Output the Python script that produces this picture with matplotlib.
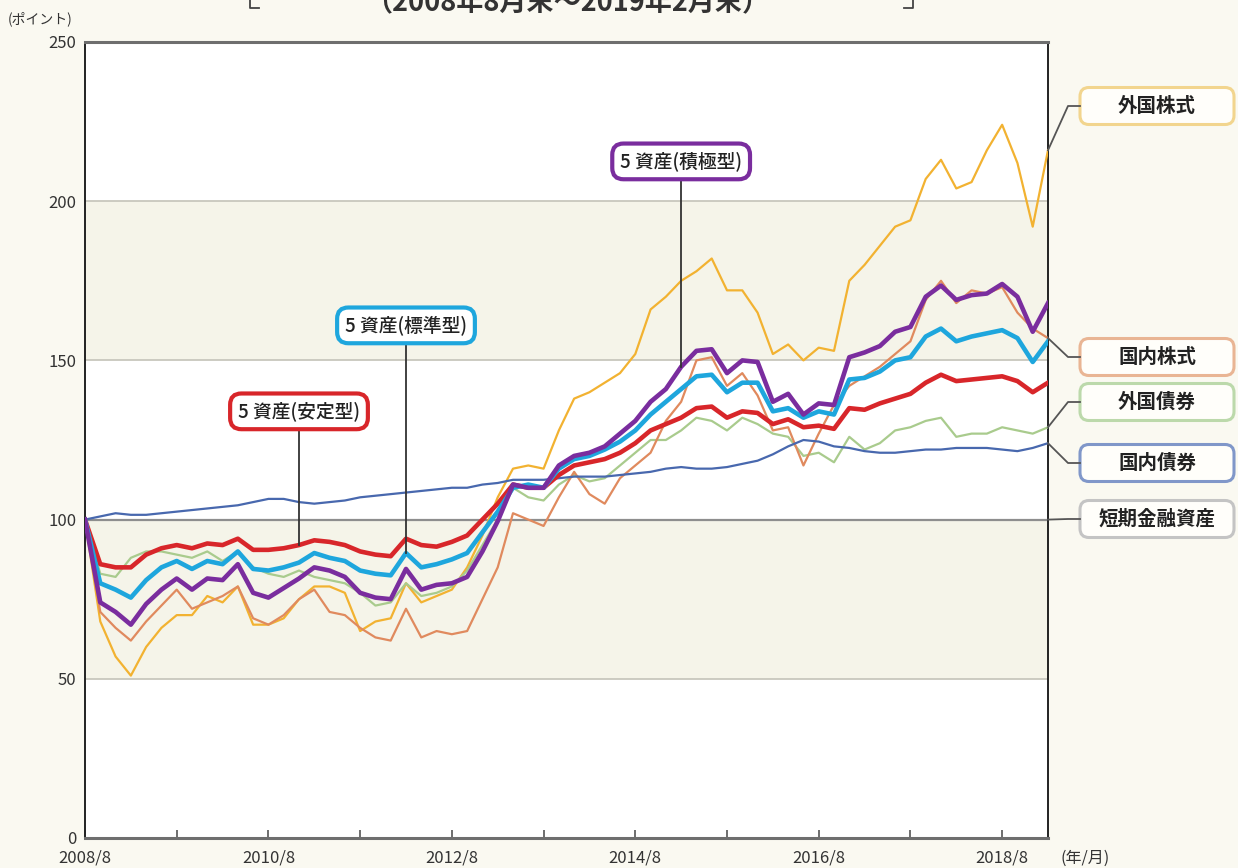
import matplotlib
matplotlib.use('Agg')
import matplotlib.pyplot as plt
from matplotlib.patches import FancyBboxPatch
from matplotlib.lines import Line2D

plt.rcParams['font.family'] = ['Noto Sans CJK JP', 'DejaVu Sans']

# ---------------- data (month offsets from 2008/8, every 2 months) ----------------
months = list(range(0, 127, 2))

foreign_equity = [100, 68, 57, 51, 60, 66, 70, 70,
                  76, 74, 79, 67, 67, 69, 75, 79,
                  79, 77, 65, 68, 69, 80, 74, 76,
                  78, 85, 95, 107, 116, 117, 116, 128,
                  138, 140, 143, 146, 152, 166, 170, 175,
                  178, 182, 172, 172, 165, 152, 155, 150,
                  154, 153, 175, 180, 186, 192, 194, 207,
                  213, 204, 206, 216, 224, 212, 192, 216]

domestic_equity = [100, 71, 66, 62, 68, 73, 78, 72,
                   74, 76, 79, 69, 67, 70, 75, 78,
                   71, 70, 66, 63, 62, 72, 63, 65,
                   64, 65, 75, 85, 102, 100, 98, 107,
                   115, 108, 105, 113, 117, 121, 131, 137,
                   150, 151, 142, 146, 139, 128, 129, 117,
                   127, 136, 142, 145, 148, 152, 156, 169,
                   175, 168, 172, 171, 173, 165, 160, 157]

foreign_bond = [100, 83, 82, 88, 90, 90, 89, 88,
                90, 87, 90, 85, 83, 82, 84, 82,
                81, 80, 77, 73, 74, 80, 76, 77,
                79, 84, 92, 100, 110, 107, 106, 111,
                114, 112, 113, 117, 121, 125, 125, 128,
                132, 131, 128, 132, 130, 127, 126, 120,
                121, 118, 126, 122, 124, 128, 129, 131,
                132, 126, 127, 127, 129, 128, 127, 129]

domestic_bond = [100, 101, 102, 101.5, 101.5, 102, 102.5, 103,
                 103.5, 104, 104.5, 105.5, 106.5, 106.5, 105.5, 105,
                 105.5, 106, 107, 107.5, 108, 108.5, 109, 109.5,
                 110, 110, 111, 111.5, 112.5, 112.5, 112.5, 113,
                 113.5, 113.5, 113.5, 114, 114.5, 115, 116, 116.5,
                 116, 116, 116.5, 117.5, 118.5, 120.5, 123, 125,
                 124.5, 123, 122.5, 121.5, 121, 121, 121.5, 122,
                 122, 122.5, 122.5, 122.5, 122, 121.5, 122.5, 124]

short_term = [100] * len(months)

stable = [100, 86, 85, 85, 89, 91, 92, 91,
          92.5, 92, 94, 90.5, 90.5, 91, 92, 93.5,
          93, 92, 90, 89, 88.5, 94, 92, 91.5,
          93, 95, 100, 105, 111, 110, 110, 114,
          117, 118, 119, 121, 124, 128, 130, 132,
          135, 135.5, 132, 134, 133.5, 130, 131.5, 129,
          129.5, 128.5, 135, 134.5, 136.5, 138, 139.5, 143,
          145.5, 143.5, 144, 144.5, 145, 143.5, 140, 143]

standard = [100, 80, 78, 75.5, 81, 85, 87, 84.5,
            87, 86, 90, 84.5, 84, 85, 86.5, 89.5,
            88, 87, 84, 83, 82.5, 89.5, 85, 86,
            87.5, 89.5, 96, 102.5, 110, 111, 110, 116,
            119, 120, 122, 124.5, 128, 133, 137, 141,
            145, 145.5, 140, 143, 143, 134, 135, 132,
            134, 133, 144, 144.5, 146.5, 150, 151, 157.5,
            160, 156, 157.5, 158.5, 159.5, 157, 149.5, 156]

aggressive = [100, 74, 71, 67, 73.5, 78, 81.5, 78,
              81.5, 81, 86, 77, 75.5, 78.5, 81.5, 85,
              84, 82, 77, 75.5, 75, 84.5, 78, 79.5,
              80, 82, 90, 99.5, 111, 110, 110, 117,
              120, 121, 123, 127, 131, 137, 141, 148,
              153, 153.5, 146, 150, 149.5, 137, 139.5, 133,
              136.5, 136, 151, 152.5, 154.5, 159, 160.5, 170,
              173.5, 169, 170.5, 171, 174, 170, 159, 168]

x_tick_pos = [0, 24, 48, 72, 96, 120]
x_tick_labels = ['2008/8', '2010/8', '2012/8', '2014/8', '2016/8', '2018/8']
x_minor_pos = [12, 36, 60, 84, 108]
y_ticks = [0, 50, 100, 150, 200, 250]

asset_labels = ['外国株式', '国内株式', '外国債券', '国内債券', '短期金融資産']
fund_labels = ['5 資産(安定型)', '5 資産(標準型)', '5 資産(積極型)']

# ---------------- figure ----------------
W, H = 1238, 868
fig = plt.figure(figsize=(W / 100, H / 100), dpi=100)
BG = '#faf9f1'
fig.patch.set_facecolor(BG)

L, R, T, B = 85, 1048, 42, 838
ax = fig.add_axes([L / W, 1 - B / H, (R - L) / W, (B - T) / H])
ax.set_facecolor('white')
ax.set_xlim(0, 126)
ax.set_ylim(0, 250)

for lo, hi in [(50, 100), (150, 200)]:
    ax.axhspan(lo, hi, color='#f5f4e9', zorder=0, lw=0)
for g in [50, 150, 200]:
    ax.axhline(g, color='#c8c7bd', lw=1.3, zorder=1)

c_fe, c_de, c_fb, c_db, c_st = '#f2b231', '#e08a5e', '#a9cb8d', '#4868ae', '#8e8e8e'
c_red, c_cyan, c_purple = '#d8262a', '#1ea6dd', '#7a2d9e'

ax.plot(months, short_term, color=c_st, lw=1.6, zorder=2)
ax.plot(months, foreign_equity, color=c_fe, lw=1.6, zorder=3)
ax.plot(months, foreign_bond, color=c_fb, lw=1.6, zorder=3)
ax.plot(months, domestic_equity, color=c_de, lw=1.6, zorder=3)
ax.plot(months, domestic_bond, color=c_db, lw=1.6, zorder=4)
ax.plot(months, stable, color=c_red, lw=3.3, zorder=5)
ax.plot(months, standard, color=c_cyan, lw=3.3, zorder=6)
ax.plot(months, aggressive, color=c_purple, lw=3.3, zorder=7)

# axes styling
for s in ['left', 'right']:
    ax.spines[s].set_color('#222222')
    ax.spines[s].set_linewidth(1.4)
for s in ['top', 'bottom']:
    ax.spines[s].set_color('#6e6e6e')
    ax.spines[s].set_linewidth(2.2)

ax.set_xticks(x_tick_pos)
ax.set_xticklabels(x_tick_labels, fontsize=12, color='#333333')
ax.set_xticks(x_minor_pos, minor=True)
ax.tick_params(axis='x', which='both', direction='in', length=6, width=1.2,
               color='#555555', pad=8)
ax.set_yticks(y_ticks)
ax.set_yticklabels([str(v) for v in y_ticks], fontsize=12, color='#333333')
ax.tick_params(axis='y', length=0, pad=6)

fig.text(1060 / W, 1 - 858 / H, '(年/月)', fontsize=11.5, color='#333333',
         ha='left', va='center')
fig.text(40 / W, 1 - 19 / H, '(ポイント)', fontsize=10, color='#333333',
         ha='center', va='center')

# partial title at the very top (cut off as in the source)
fig.text(567 / W, 1 - 11 / H, '（2008年8月末～2019年2月末）', fontsize=19.5,
         fontweight='bold', color='#333333', ha='center', va='baseline')
inch = fig.dpi_scale_trans
def P(px, py):
    return px / 100, (H - py) / 100
for xs, ys in [([250, 250, 259], [-2, 8, 8]), ([904, 913, 913], [8, 8, -2])]:
    pts = [P(a, b) for a, b in zip(xs, ys)]
    fig.add_artist(Line2D([p[0] for p in pts], [p[1] for p in pts],
                          color='#444444', lw=1.3, transform=inch))

# fund annotation boxes with vertical leaders
fund_info = [(fund_labels[0], stable, 14, 134, c_red),
             (fund_labels[1], standard, 21, 161, c_cyan),
             (fund_labels[2], aggressive, 39, 212.5, c_purple)]
for text, series, idx, ybox, col in fund_info:
    xm = months[idx]
    ax.plot([xm, xm], [ybox, series[idx]], color='#333333', lw=1.3, zorder=8)
    ax.text(xm, ybox, text, fontsize=13.5, fontweight='medium', color='#222222',
            ha='center', va='center', zorder=10,
            bbox=dict(boxstyle='round,pad=0.42,rounding_size=0.6', fc='white',
                      ec=col, lw=3))

# right-side asset labels
fig.canvas.draw()
label_info = [(asset_labels[0], foreign_equity, 106, '#f2d58e'),
              (asset_labels[1], domestic_equity, 357, '#e9b594'),
              (asset_labels[2], foreign_bond, 402, '#bcd9ab'),
              (asset_labels[3], domestic_bond, 463, '#8097c9'),
              (asset_labels[4], short_term, 519, '#c4c4c4')]
bx0, bx1, bh = 1080, 1234, 37
for text, series, yc, ec in label_info:
    dx, dy = ax.transData.transform((months[-1], series[-1]))
    sx, sy = dx, H - dy
    pts = [P(sx, sy), P(1068, yc), P(bx0, yc)]
    fig.add_artist(Line2D([p[0] for p in pts], [p[1] for p in pts],
                          color='#555555', lw=1.3, transform=inch))
    x0, y0 = P(bx0, yc + bh / 2)
    box = FancyBboxPatch((x0, y0), (bx1 - bx0) / 100, bh / 100,
                         boxstyle='round,pad=0,rounding_size=0.09',
                         transform=inch, fc='#fffefa', ec=ec, lw=2.2)
    fig.add_artist(box)
    tx, ty = P((bx0 + bx1) / 2, yc)
    fig.text(tx, ty, text, transform=inch, fontsize=14, fontweight='bold',
             color='#222222', ha='center', va='center')

fig.savefig('out.png', dpi=100, facecolor=BG)
